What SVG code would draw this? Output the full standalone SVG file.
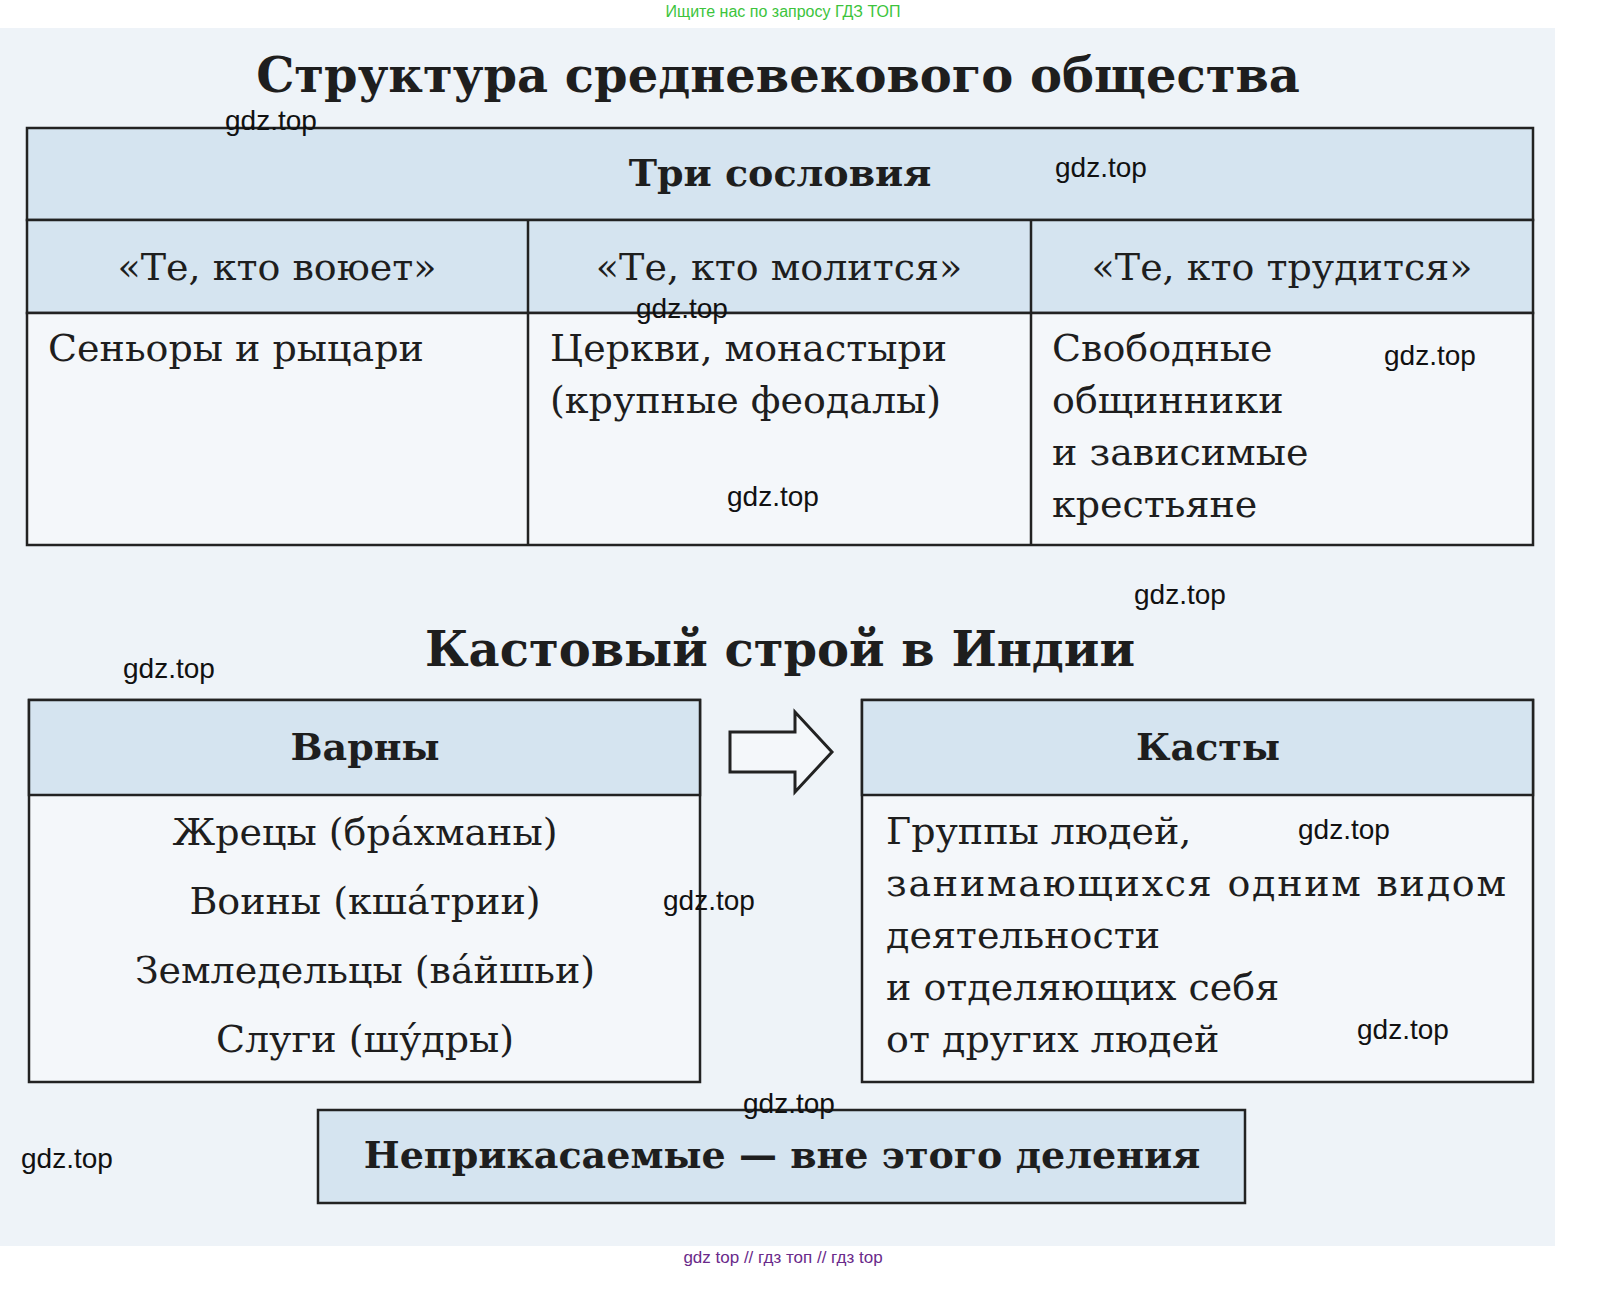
<svg xmlns="http://www.w3.org/2000/svg" width="1601" height="1299" viewBox="0 0 1601 1299">
<style>
.t{font-family:"DejaVu Serif",serif;font-size:38px;fill:#1e1e1e}
.h{font-family:"DejaVu Serif",serif;font-size:38px;font-weight:bold;fill:#1e1e1e}
.ti{font-family:"DejaVu Serif",serif;font-size:48px;font-weight:bold;fill:#1e1e1e;text-anchor:middle}
.w{font-family:"Liberation Sans",sans-serif;font-size:28px;fill:#111}
.c{text-anchor:middle}
.b{fill:#d5e4f0;stroke:#222;stroke-width:2.5}
.n{fill:#f4f7fa;stroke:#222;stroke-width:2.5}
</style>
<rect width="1601" height="1299" fill="#fff"/>
<rect x="0" y="28" width="1555" height="1218" fill="#eef3f8"/>
<text x="783" y="17" font-family="Liberation Sans,sans-serif" font-size="16" fill="#3cc43c" text-anchor="middle">Ищите нас по запросу ГДЗ ТОП</text>
<text class="ti" x="778" y="92">Структура средневекового общества</text>
<g id="table1">
<rect class="b" x="27" y="128" width="1506" height="92"/>
<rect class="b" x="27" y="220" width="1506" height="93"/>
<rect class="n" x="27" y="313" width="1506" height="232"/>
<line x1="528" y1="220" x2="528" y2="545" stroke="#222" stroke-width="2.5"/>
<line x1="1031" y1="220" x2="1031" y2="545" stroke="#222" stroke-width="2.5"/>
<text class="h c" x="780" y="186">Три сословия</text>
<text class="t c" x="277" y="280">«Те, кто воюет»</text>
<text class="t c" x="779" y="280">«Те, кто молится»</text>
<text class="t c" x="1282" y="280">«Те, кто трудится»</text>
<text class="t" x="48" y="361">Сеньоры и рыцари</text>
<text class="t" x="550" y="361">Церкви, монастыри</text>
<text class="t" x="550" y="413">(крупные феодалы)</text>
<text class="t" x="1052" y="361">Свободные</text>
<text class="t" x="1052" y="413">общинники</text>
<text class="t" x="1052" y="465">и зависимые</text>
<text class="t" x="1052" y="517">крестьяне</text>
</g>
<text class="ti" x="780" y="666">Кастовый строй в Индии</text>
<g id="varny">
<rect class="n" x="29" y="700" width="671" height="382"/>
<rect class="b" x="29" y="700" width="671" height="95"/>
<text class="h c" x="365" y="760">Варны</text>
<text class="t c" x="365" y="845">Жрецы (бра́хманы)</text>
<text class="t c" x="365" y="914">Воины (кша́трии)</text>
<text class="t c" x="365" y="983">Земледельцы (ва́йшьи)</text>
<text class="t c" x="365" y="1052">Слуги (шу́дры)</text>
</g>
<g id="connectors">
<polygon points="730,732 795,732 795,712 832,752 795,792 795,772 730,772" fill="#f4f7fa" stroke="#222" stroke-width="3"/>
</g>
<g id="kasty">
<rect class="n" x="862" y="700" width="671" height="382"/>
<rect class="b" x="862" y="700" width="671" height="95"/>
<text class="h c" x="1208" y="760">Касты</text>
<text class="t" x="886" y="844">Группы людей,</text>
<text class="t" x="886" y="896" textLength="620">занимающихся одним видом</text>
<text class="t" x="886" y="948">деятельности</text>
<text class="t" x="886" y="1000">и отделяющих себя</text>
<text class="t" x="886" y="1052">от других людей</text>
</g>
<g id="neprik">
<rect class="b" x="318" y="1110" width="927" height="93"/>
<text class="h c" x="782" y="1168">Неприкасаемые — вне этого деления</text>
</g>
<g id="watermarks">
<text class="w" x="225" y="130">gdz.top</text>
<text class="w" x="1055" y="177">gdz.top</text>
<text class="w" x="636" y="318">gdz.top</text>
<text class="w" x="1384" y="365">gdz.top</text>
<text class="w" x="727" y="506">gdz.top</text>
<text class="w" x="1134" y="604">gdz.top</text>
<text class="w" x="123" y="678">gdz.top</text>
<text class="w" x="1298" y="839">gdz.top</text>
<text class="w" x="663" y="910">gdz.top</text>
<text class="w" x="1357" y="1039">gdz.top</text>
<text class="w" x="743" y="1113">gdz.top</text>
<text class="w" x="21" y="1168">gdz.top</text>
</g>
<text x="783" y="1263" font-family="Liberation Sans,sans-serif" font-size="17" fill="#6a2a8a" text-anchor="middle">gdz top  //  гдз топ  //  гдз top</text>
</svg>
